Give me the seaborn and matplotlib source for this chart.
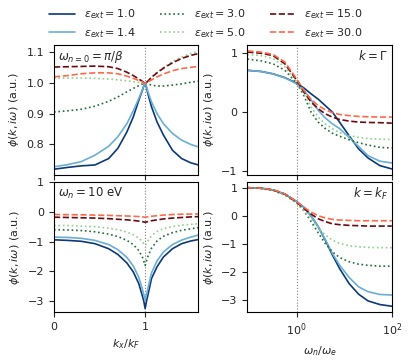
# Curvas phi(k, i omega) para varios epsilon_ext
# Painel esquerdo: corte em k_x/k_F ; painel direito: dependencia em omega_n/omega_e

import pandas as pd
import seaborn as sns
import matplotlib
matplotlib.use("Agg")
import matplotlib.pyplot as plt
from matplotlib.lines import Line2D
from matplotlib.ticker import NullLocator

# valores de epsilon_ext (legenda)
eps = ["1.0", "1.4", "3.0", "5.0", "15.0", "30.0"]
cores = ["#0b3a76", "#6aaed6", "#1f6e38", "#8fd08c", "#6b0a12", "#fb6a4a"]
estilos = ["", "", (1, 1.65), (1, 1.65), (3.7, 1.6), (3.7, 1.6)]

# eixo k_x/k_F
kx = [0, 0.15, 0.3, 0.45, 0.6, 0.7, 0.8, 0.87, 0.93, 0.97, 0.985, 1.0,
      1.015, 1.03, 1.07, 1.13, 1.2, 1.3, 1.4, 1.5, 1.585]

# omega_{n=0} = pi/beta (uma linha por epsilon)
phi_w0 = [
    [0.718, 0.724, 0.729, 0.732, 0.753, 0.786, 0.84, 0.889, 0.943, 0.976, 0.99, 1.0,
     0.985, 0.965, 0.922, 0.873, 0.83, 0.78, 0.753, 0.739, 0.732],
    [0.726, 0.733, 0.743, 0.764, 0.793, 0.824, 0.867, 0.909, 0.949, 0.978, 0.99, 1.0,
     0.988, 0.972, 0.938, 0.9, 0.867, 0.835, 0.813, 0.799, 0.791],
    [0.905, 0.909, 0.914, 0.924, 0.94, 0.954, 0.971, 0.982, 0.991, 0.997, 0.999, 1.0,
     0.999, 0.997, 0.993, 0.99, 0.99, 0.993, 0.997, 1.002, 1.006],
    [1.016, 1.016, 1.016, 1.015, 1.013, 1.01, 1.007, 1.004, 1.002, 1.0, 0.999, 0.998,
     1.001, 1.006, 1.02, 1.035, 1.05, 1.07, 1.085, 1.096, 1.103],
    [1.052, 1.053, 1.054, 1.055, 1.053, 1.047, 1.035, 1.024, 1.013, 1.005, 1.001, 0.998,
     1.002, 1.006, 1.018, 1.033, 1.048, 1.066, 1.08, 1.09, 1.096],
    [1.02, 1.024, 1.03, 1.033, 1.033, 1.03, 1.022, 1.015, 1.008, 1.003, 1.0, 0.998,
     1.0, 1.003, 1.01, 1.02, 1.029, 1.04, 1.047, 1.051, 1.054],
]

# omega_n = 10 eV
phi_w10 = [
    [-0.94, -0.96, -0.99, -1.07, -1.24, -1.43, -1.72, -2.02, -2.41, -2.83, -3.0, -3.25,
     -3.0, -2.8, -2.24, -1.85, -1.52, -1.24, -1.07, -0.98, -0.93],
    [-0.85, -0.86, -0.89, -0.96, -1.1, -1.27, -1.53, -1.82, -2.2, -2.6, -2.78, -2.95,
     -2.78, -2.58, -2.05, -1.65, -1.35, -1.1, -0.95, -0.85, -0.78],
    [-0.6, -0.61, -0.63, -0.67, -0.75, -0.83, -0.96, -1.1, -1.3, -1.52, -1.65, -1.8,
     -1.65, -1.5, -1.22, -0.98, -0.82, -0.7, -0.62, -0.57, -0.53],
    [-0.46, -0.46, -0.48, -0.5, -0.55, -0.6, -0.68, -0.77, -0.88, -1.0, -1.07, -1.13,
     -1.06, -0.98, -0.8, -0.66, -0.57, -0.49, -0.45, -0.42, -0.4],
    [-0.18, -0.19, -0.2, -0.21, -0.23, -0.25, -0.27, -0.29, -0.31, -0.33, -0.34, -0.35,
     -0.34, -0.33, -0.3, -0.27, -0.24, -0.21, -0.19, -0.17, -0.16],
    [-0.09, -0.095, -0.1, -0.11, -0.12, -0.13, -0.14, -0.15, -0.16, -0.17, -0.175, -0.18,
     -0.175, -0.17, -0.15, -0.13, -0.11, -0.09, -0.08, -0.075, -0.07],
]

# eixo omega_n/omega_e (log)
wn = [0.091, 0.178, 0.316, 0.562, 1.0, 1.41, 2.0, 2.82, 3.98, 5.62, 7.94,
      12.6, 20.0, 31.6, 56.2, 100.0]

# k = Gamma
phi_gamma = [
    [0.71, 0.69, 0.65, 0.585, 0.49, 0.41, 0.31, 0.22, 0.11, 0.0, -0.17,
     -0.4, -0.625, -0.78, -0.91, -0.966],
    [0.71, 0.69, 0.65, 0.58, 0.48, 0.37, 0.21, 0.03, -0.1, -0.2, -0.28,
     -0.43, -0.585, -0.74, -0.835, -0.864],
    [0.9, 0.87, 0.82, 0.71, 0.49, 0.28, 0.0, -0.17, -0.28, -0.36, -0.41,
     -0.47, -0.52, -0.56, -0.6, -0.61],
    [0.98, 0.96, 0.91, 0.77, 0.51, 0.31, 0.085, -0.085, -0.2, -0.28, -0.35,
     -0.4, -0.43, -0.45, -0.46, -0.466],
    [1.02, 1.0, 0.96, 0.82, 0.54, 0.34, 0.17, 0.057, -0.03, -0.085, -0.125,
     -0.153, -0.17, -0.176, -0.18, -0.188],
    [1.04, 1.02, 0.98, 0.85, 0.56, 0.37, 0.215, 0.11, 0.04, -0.01, -0.04,
     -0.06, -0.074, -0.08, -0.085, -0.085],
]

# k = k_F
phi_kf = [
    [1.0, 0.98, 0.92, 0.77, 0.5, 0.3, -0.01, -0.39, -0.87, -1.4, -1.88,
     -2.42, -2.8, -3.04, -3.17, -3.23],
    [1.0, 0.98, 0.92, 0.77, 0.5, 0.3, -0.01, -0.39, -0.85, -1.35, -1.76,
     -2.2, -2.54, -2.71, -2.81, -2.83],
    [1.0, 0.97, 0.9, 0.74, 0.45, 0.18, -0.21, -0.61, -0.99, -1.29, -1.49,
     -1.64, -1.73, -1.77, -1.8, -1.8],
    [1.0, 0.97, 0.9, 0.74, 0.45, 0.2, -0.13, -0.43, -0.69, -0.87, -0.99,
     -1.07, -1.11, -1.13, -1.14, -1.14],
    [1.0, 0.98, 0.92, 0.77, 0.48, 0.26, 0.06, -0.11, -0.21, -0.29, -0.32,
     -0.345, -0.357, -0.37, -0.37, -0.37],
    [1.0, 0.98, 0.93, 0.78, 0.5, 0.3, 0.13, 0.0, -0.08, -0.13, -0.155,
     -0.167, -0.18, -0.18, -0.18, -0.18],
]

rotulos = [r"$\varepsilon_{ext} = " + e + "$" for e in eps]
paleta = dict(zip(rotulos, cores))
tracos = dict(zip(rotulos, estilos))


def tabela_painel(x, linhas):
    partes = []
    for rot, ys in zip(rotulos, linhas):
        partes.append(pd.DataFrame({"x": x, "phi": ys, "eps": rot}))
    return pd.concat(partes, ignore_index=True)


sns.set_style("ticks")
plt.rcParams.update({"font.size": 8, "axes.labelsize": 8,
                     "xtick.labelsize": 8, "ytick.labelsize": 8,
                     "axes.edgecolor": "black", "axes.linewidth": 0.8})

fig, axs = plt.subplots(2, 2, figsize=(4.12, 3.6), dpi=100)
fig.subplots_adjust(left=0.131, right=0.951, top=0.875, bottom=0.133,
                    wspace=0.338, hspace=0.054)

paineis = [
    (axs[0, 0], kx, phi_w0, r"$\omega_{n=0}=\pi/\beta$", "left"),
    (axs[1, 0], kx, phi_w10, r"$\omega_n=10$ eV", "left"),
    (axs[0, 1], wn, phi_gamma, r"$k=\Gamma$", "right"),
    (axs[1, 1], wn, phi_kf, r"$k=k_F$", "right"),
]

for ax, x, linhas, texto, lado in paineis:
    tabela = tabela_painel(x, linhas)
    sns.lineplot(data=tabela, x="x", y="phi", hue="eps", style="eps",
                 palette=paleta, dashes=tracos, estimator=None, sort=False,
                 lw=1.2, legend=False, ax=ax)
    ax.axvline(1, color="grey", ls=":", lw=0.8, zorder=0)
    ax.set_ylabel(r"$\phi(k, i\omega)$ (a.u.)")
    ax.set_xlabel("")
    if lado == "left":
        ax.text(0.03, 0.97, texto, transform=ax.transAxes, ha="left", va="top", fontsize=8.5)
    else:
        ax.text(0.97, 0.97, texto, transform=ax.transAxes, ha="right", va="top", fontsize=8.5)

# lado esquerdo: k_x/k_F
for ax in axs[:, 0]:
    ax.set_xlim(0, 1.585)
    ax.set_xticks([0, 1])
axs[0, 0].set_xticklabels([])
axs[0, 0].set_ylim(0.699, 1.124)
axs[0, 0].set_yticks([0.8, 0.9, 1.0, 1.1])
axs[1, 0].set_ylim(-3.37, 1.0)
axs[1, 0].set_yticks([-3, -2, -1, 0, 1])
axs[1, 0].set_xlabel(r"$k_x/k_F$")

# lado direito: omega_n/omega_e em escala log
for ax in axs[:, 1]:
    ax.set_xscale("log")
    ax.set_xlim(0.091, 100)
    ax.set_xticks([1, 100])
    ax.xaxis.set_minor_locator(NullLocator())
axs[0, 1].set_xticklabels([])
axs[0, 1].set_ylim(-1.07, 1.14)
axs[0, 1].set_yticks([-1, 0, 1])
axs[1, 1].set_ylim(-3.44, 1.2)
axs[1, 1].set_yticks([-3, -2, -1, 0, 1])
axs[1, 1].set_xlabel(r"$\omega_n/\omega_e$")

# legenda no topo da figura
alcas = []
for c, d in zip(cores, estilos):
    a = Line2D([], [], color=c, lw=1.2)
    if d != "":
        a.set_dashes(d)
    alcas.append(a)
fig.legend(alcas, rotulos, loc="upper center", ncol=3, frameon=False,
           bbox_to_anchor=(0.5, 1.007), handlelength=2.3, columnspacing=2.2,
           labelspacing=0.4)

fig.savefig("out.png", dpi=100)
